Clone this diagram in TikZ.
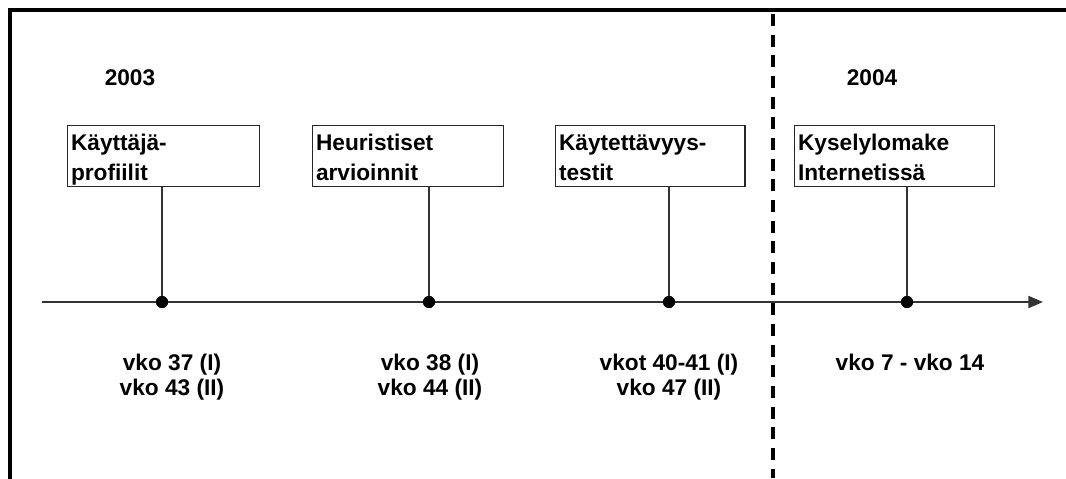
\documentclass[tikz,border=0pt]{standalone}
\usepackage{fontspec}
\setmainfont{Liberation Sans}
\usetikzlibrary{arrows.meta}
% struts fixing the first baseline and the bottom edge of the phase boxes
\newcommand{\phtop}{\rule{0pt}{18.6pt}}
\newcommand{\phbot}{\rule[-4.2pt]{0pt}{4.2pt}}
\begin{document}
\begin{tikzpicture}[x=0.75pt,y=-0.75pt,
  every node/.style={font=\fontsize{17}{22.5}\selectfont\bfseries},
  phase/.style={draw=black!85,line width=1.1pt,fill=white,anchor=north west,
    minimum height=45.75pt,text width=#1,align=left,inner xsep=2.5pt,inner ysep=0pt},
  event/.style={circle,fill=black,inner sep=0pt,minimum size=9pt},
  stem/.style={draw=black!80,line width=1.5pt},
  week/.style={anchor=north,align=center,font=\fontsize{17}{19}\selectfont\bfseries},
  year/.style={anchor=center}]
\useasboundingbox (0,0) rectangle (1066,478);
% frame edges
\draw[line width=2.4pt,line cap=rect] (1070,10) -- (10,10) -- (10,482);
% year divider
\draw[line width=2.6pt,dash pattern=on 9pt off 6.5pt] (773,14) -- (773,478);
% years
\node[year] (y3) at (130,78) {2003};
\node[year] (y4) at (872,78) {2004};
% axis
\coordinate (a0) at (42,302);
\coordinate (a1) at (1043,302);
\draw[draw=black!80,line width=1.5pt,-{Triangle[length=11pt,width=9pt]}] (a0) -- (a1);
% phase boxes
\node[phase=139pt] (b1) at (67,125) {\phtop Käyttäjä-\\profiilit\phbot};
\node[phase=138pt] (b2) at (312,125) {\phtop Heuristiset\\arvioinnit\phbot};
\node[phase=137pt] (b3) at (555,125) {\phtop Käytettävyys-\\testit\phbot};
\node[phase=145pt] (b4) at (794,125) {\phtop Kyselylomake\\Internetissä\phbot};
% events on the axis
\node[event] (e1) at (162,302) {};
\node[event] (e2) at (429,302) {};
\node[event] (e3) at (669,302) {};
\node[event] (e4) at (907,302) {};
\foreach \i in {1,...,4} \draw[stem] (e\i.center) -- (e\i |- b\i.south);
\foreach \i in {1,...,4} \node[event] at (e\i) {};
% week labels
\node[week] (w1) at (172,349) {vko 37 (I)\\vko 43 (II)};
\node[week] (w2) at (430,349) {vko 38 (I)\\vko 44 (II)};
\node[week] (w3) at (669,349) {vkot 40-41 (I)\\vko 47 (II)};
\node[week] (w4) at (910,349) {vko 7 - vko 14};
\end{tikzpicture}
\end{document}
